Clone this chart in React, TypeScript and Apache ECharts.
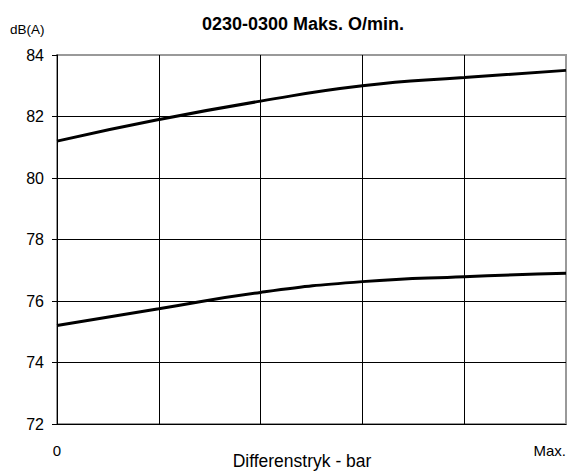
import React, { useEffect, useRef } from "react";
import * as echarts from "echarts";

const xPositions = [0, 1, 2, 3, 4, 5];
const upperSeries = [81.2, 81.9, 82.5, 83.0, 83.27, 83.5];
const lowerSeries = [75.2, 75.75, 76.28, 76.63, 76.79, 76.9];
const xTickLabels: Record<number, string> = { 0: "0", 5: "Max." };
const titleText = "0230-0300 Maks. O/min.";
const yUnit = "dB(A)";
const xTitle = "Differenstryk - bar";

export default function App() {
  const ref = useRef<HTMLDivElement>(null);
  useEffect(() => {
    if (!ref.current) return;
    const chart = echarts.init(ref.current, undefined, { renderer: "svg" });
    const font = "'Liberation Sans', Arial, sans-serif";
    chart.setOption({
      animation: false,
      backgroundColor: "#ffffff",
      textStyle: { fontFamily: font },
      grid: {
        left: 57,
        right: 2,
        top: 55,
        bottom: 48,
        show: true,
        borderColor: "#999999",
        borderWidth: 2,
      },
      graphic: [
        {
          type: "text",
          x: 303,
          y: 24,
          style: {
            text: titleText,
            fontFamily: font,
            fontSize: 18,
            fontWeight: "bold",
            fill: "#000",
            align: "center",
            verticalAlign: "middle",
          },
        },
        {
          type: "text",
          x: 10,
          y: 29,
          style: {
            text: yUnit,
            fontFamily: font,
            fontSize: 13.5,
            fill: "#000",
            align: "left",
            verticalAlign: "middle",
          },
        },
        {
          type: "text",
          x: 302,
          y: 461,
          style: {
            text: xTitle,
            fontFamily: font,
            fontSize: 17.5,
            fill: "#000",
            align: "center",
            verticalAlign: "middle",
          },
        },
      ],
      xAxis: {
        type: "value",
        min: 0,
        max: 5,
        interval: 1,
        axisLine: { show: true, lineStyle: { color: "#000", width: 1 } },
        axisTick: { show: false },
        axisLabel: {
          margin: 19,
          fontSize: 15,
          fontFamily: font,
          color: "#000",
          showMaxLabel: true,
          showMinLabel: true,
          alignMaxLabel: "right",
          formatter: (v: number) => xTickLabels[v] ?? "",
        },
        splitLine: { show: true, showMaxLine: false, showMinLine: false, lineStyle: { color: "#000", width: 1 } },
      },
      yAxis: {
        type: "value",
        min: 72,
        max: 84,
        interval: 2,
        axisLine: { show: true, lineStyle: { color: "#000", width: 1 } },
        axisTick: { show: true, length: 5, lineStyle: { color: "#000" } },
        axisLabel: { margin: 13, fontSize: 16, fontFamily: font, color: "#000" },
        splitLine: { show: true, showMaxLine: false, showMinLine: false, lineStyle: { color: "#000", width: 1 } },
      },
      series: [
        {
          type: "line",
          data: xPositions.map((x, i) => [x, upperSeries[i]]),
          smooth: true,
          showSymbol: false,
          lineStyle: { color: "#000", width: 3 },
        },
        {
          type: "line",
          data: xPositions.map((x, i) => [x, lowerSeries[i]]),
          smooth: true,
          showSymbol: false,
          lineStyle: { color: "#000", width: 3 },
        },
      ],
    });
    return () => chart.dispose();
  }, []);
  return (
    <div
      ref={ref}
      style={{ position: "fixed", left: 0, top: 0, width: 569, height: 472 }}
    />
  );
}
